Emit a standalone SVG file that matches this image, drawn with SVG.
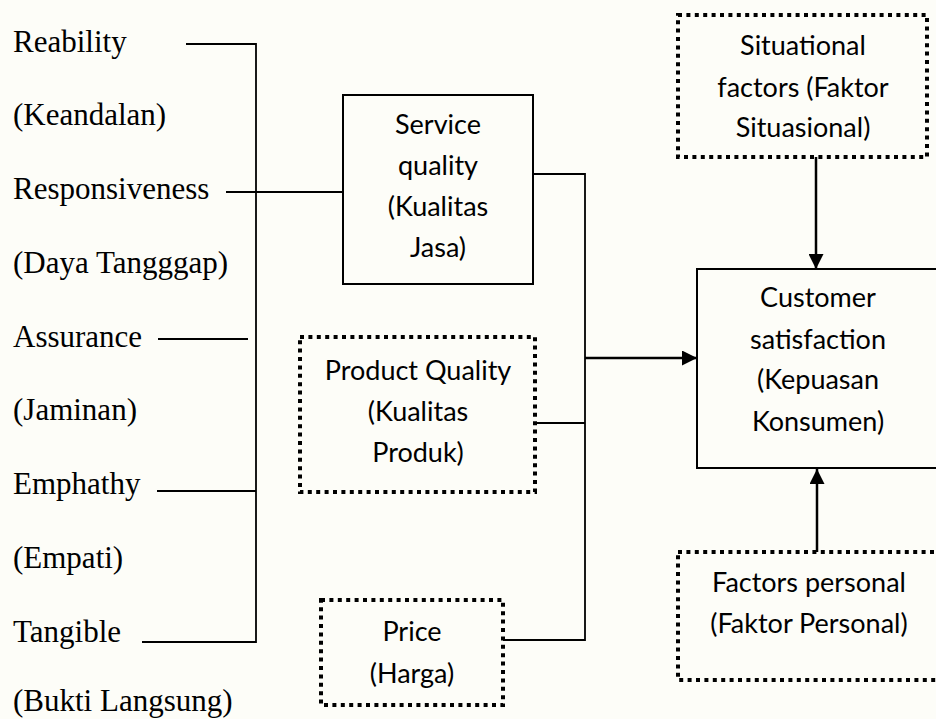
<svg xmlns="http://www.w3.org/2000/svg" width="936" height="719" viewBox="0 0 936 719">
<defs>
<style>
.bg{fill:#fdfdf8}
.lt{font-family:"Liberation Serif","Times New Roman",serif;font-size:31px;fill:#000}
.bt{font-family:Lato,"Open Sans",sans-serif;font-size:27px;fill:#000;text-anchor:middle}
.solid{fill:none;stroke:#000;stroke-width:2}
.dot{fill:none;stroke:#000;stroke-width:4;stroke-dasharray:4 4.4}
.ln{fill:none;stroke:#000;stroke-width:1.8}
.ar{fill:none;stroke:#000;stroke-width:2.5}
</style>
<marker id="ah" viewBox="0 0 10 10" refX="10" refY="5" markerUnits="userSpaceOnUse" markerWidth="16" markerHeight="15" orient="auto">
<path d="M0,0 L10,5 L0,10 Z" fill="#000"/>
</marker>
</defs>
<rect class="bg" x="0" y="0" width="936" height="719"/>

<g id="dimensions">
<text class="lt" x="13" y="52">Reability</text>
<text class="lt" x="13" y="125">(Keandalan)</text>
<text class="lt" x="13" y="199">Responsiveness</text>
<text class="lt" x="13" y="273">(Daya Tangggap)</text>
<text class="lt" x="13" y="347">Assurance</text>
<text class="lt" x="13" y="420">(Jaminan)</text>
<text class="lt" x="13" y="494">Emphathy</text>
<text class="lt" x="13" y="568">(Empati)</text>
<text class="lt" x="13" y="642">Tangible</text>
<text class="lt" x="13" y="711">(Bukti Langsung)</text>
</g>

<g id="service">
<rect class="solid" x="343" y="95" width="190" height="189"/>
<text class="bt" x="438" y="134">Service</text>
<text class="bt" x="438" y="175">quality</text>
<text class="bt" x="438" y="216">(Kualitas</text>
<text class="bt" x="438" y="257">Jasa)</text>
</g>

<g id="product">
<rect class="dot" x="300" y="337" width="235" height="155"/>
<text class="bt" x="418" y="380">Product Quality</text>
<text class="bt" x="418" y="421">(Kualitas</text>
<text class="bt" x="418" y="462">Produk)</text>
</g>

<g id="price">
<rect class="dot" x="321" y="600" width="182" height="105"/>
<text class="bt" x="412" y="641">Price</text>
<text class="bt" x="412" y="683">(Harga)</text>
</g>

<g id="situational">
<rect class="dot" x="678" y="15" width="249" height="142"/>
<text class="bt" x="803" y="55">Situational</text>
<text class="bt" x="803" y="97">factors (Faktor</text>
<text class="bt" x="803" y="137">Situasional)</text>
</g>

<g id="customer">
<rect class="solid" x="697" y="269" width="242" height="199"/>
<text class="bt" x="818" y="307">Customer</text>
<text class="bt" x="818" y="349">satisfaction</text>
<text class="bt" x="818" y="389">(Kepuasan</text>
<text class="bt" x="818" y="431">Konsumen)</text>
</g>

<g id="personal">
<rect class="dot" x="678" y="552" width="262" height="128"/>
<text class="bt" x="809" y="592">Factors personal</text>
<text class="bt" x="809" y="633">(Faktor Personal)</text>
</g>

<g id="connectors">
<line class="ln" x1="186" y1="44" x2="256" y2="44"/>
<line class="ln" x1="226" y1="192" x2="343" y2="192"/>
<line class="ln" x1="158" y1="339" x2="248" y2="339"/>
<line class="ln" x1="157" y1="491" x2="256" y2="491"/>
<line class="ln" x1="142" y1="642" x2="256" y2="642"/>
<line class="ln" x1="256" y1="43" x2="256" y2="643"/>
<polyline class="ln" points="533,174 585,174 585,640 503,640"/>
<line class="ln" x1="535" y1="423" x2="585" y2="423"/>
<line class="ar" x1="585" y1="358" x2="697" y2="358" marker-end="url(#ah)"/>
<line class="ar" x1="816" y1="157" x2="816" y2="269" marker-end="url(#ah)"/>
<line class="ar" x1="817" y1="552" x2="817" y2="469" marker-end="url(#ah)"/>
</g>
</svg>
